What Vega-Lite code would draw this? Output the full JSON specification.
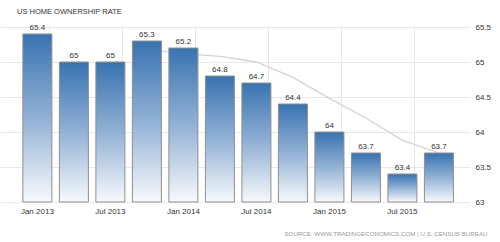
{
  "$schema": "https://vega.github.io/schema/vega-lite/v6.json",
  "width": 470,
  "height": 175,
  "autosize": "none",
  "padding": {"left": 0, "top": 27, "right": 30, "bottom": 40},
  "background": "white",
  "title": {
    "text": "US HOME OWNERSHIP RATE",
    "anchor": "start",
    "frame": "group",
    "dx": 17,
    "offset": 2,
    "baseline": "alphabetic",
    "fontSize": 7.5,
    "fontWeight": "normal",
    "font": "Liberation Sans",
    "color": "#333333"
  },
  "config": {
    "view": {"stroke": null},
    "font": "Liberation Sans"
  },
  "data": {
    "values": [
      {"period": "Jan 2013", "value": 65.4, "ma": null},
      {"period": "Apr 2013", "value": 65.0, "ma": null},
      {"period": "Jul 2013", "value": 65.0, "ma": null},
      {"period": "Oct 2013", "value": 65.3, "ma": 65.18},
      {"period": "Jan 2014", "value": 65.2, "ma": 65.12},
      {"period": "Apr 2014", "value": 64.8, "ma": 65.08},
      {"period": "Jul 2014", "value": 64.7, "ma": 65.0},
      {"period": "Oct 2014", "value": 64.4, "ma": 64.78},
      {"period": "Jan 2015", "value": 64.0, "ma": 64.48},
      {"period": "Apr 2015", "value": 63.7, "ma": 64.2},
      {"period": "Jul 2015", "value": 63.4, "ma": 63.88},
      {"period": "Oct 2015", "value": 63.7, "ma": 63.7}
    ]
  },
  "encoding": {
    "x": {
      "field": "period",
      "type": "nominal",
      "sort": null,
      "scale": {"paddingInner": 0.205, "paddingOuter": 0.54, "align": 0.58},
      "axis": {
        "title": "SOURCE: WWW.TRADINGECONOMICS.COM | U.S. CENSUS BUREAU",
        "titleFont": "Liberation Sans",
        "titleFontSize": 6.2,
        "titleFontWeight": "normal",
        "titleColor": "#999999",
        "titleAlign": "right",
        "titleBaseline": "alphabetic",
        "titleX": 487,
        "titleY": 33,
        "labelAngle": 0,
        "labelFontSize": 8,
        "labelColor": "#333333",
        "labelPadding": 5,
        "labelExpr": "(slice(datum.value,0,3)=='Jan' || slice(datum.value,0,3)=='Jul') ? datum.label : ''",
        "bandPosition": 0.93,
        "ticks": false,
        "domain": false,
        "grid": true,
        "gridColor": "#e8e8e8",
        "gridOpacity": {"condition": {"test": "slice(datum.value,0,3)=='Jan' || slice(datum.value,0,3)=='Jul'", "value": 1}, "value": 0}
      }
    }
  },
  "layer": [
    {
      "mark": {"type": "line", "color": "#d3d3d3", "strokeWidth": 1.3},
      "encoding": {
        "y": {
          "field": "ma",
          "type": "quantitative",
          "scale": {"domain": [63, 65.5], "zero": false, "nice": false},
          "axis": {
            "orient": "right",
            "title": null,
            "values": [63, 63.5, 64, 64.5, 65, 65.5],
            "format": "~r",
            "labelFontSize": 8,
            "labelColor": "#333333",
            "labelPadding": 5,
            "ticks": false,
            "domain": false,
            "gridColor": "#e8e8e8"
          }
        }
      }
    },
    {
      "mark": {
        "type": "bar",
        "stroke": "#8f8f8f",
        "strokeWidth": 1,
        "color": {
          "gradient": "linear",
          "x1": 0, "y1": 0, "x2": 0, "y2": 1,
          "stops": [
            {"offset": 0, "color": "#3873b1"},
            {"offset": 0.5, "color": "#92b1d5"},
            {"offset": 1, "color": "#f7f9fc"}
          ]
        }
      },
      "encoding": {
        "y": {
          "field": "value",
          "type": "quantitative",
          "axis": {
            "orient": "right",
            "title": null,
            "values": [63, 63.5, 64, 64.5, 65, 65.5],
            "format": "~r",
            "labelFontSize": 8,
            "labelColor": "#333333",
            "labelPadding": 5,
            "ticks": false,
            "domain": false,
            "gridColor": "#e8e8e8"
          }
        },
        "y2": {"datum": 63}
      }
    },
    {
      "mark": {"type": "text", "baseline": "bottom", "dy": -2, "fontSize": 8, "color": "#333333"},
      "encoding": {
        "y": {
          "field": "value",
          "type": "quantitative",
          "axis": {
            "orient": "right",
            "title": null,
            "values": [63, 63.5, 64, 64.5, 65, 65.5],
            "format": "~r",
            "labelFontSize": 8,
            "labelColor": "#333333",
            "labelPadding": 5,
            "ticks": false,
            "domain": false,
            "gridColor": "#e8e8e8"
          }
        },
        "text": {"field": "value", "type": "quantitative", "format": "~r"}
      }
    }
  ]
}
